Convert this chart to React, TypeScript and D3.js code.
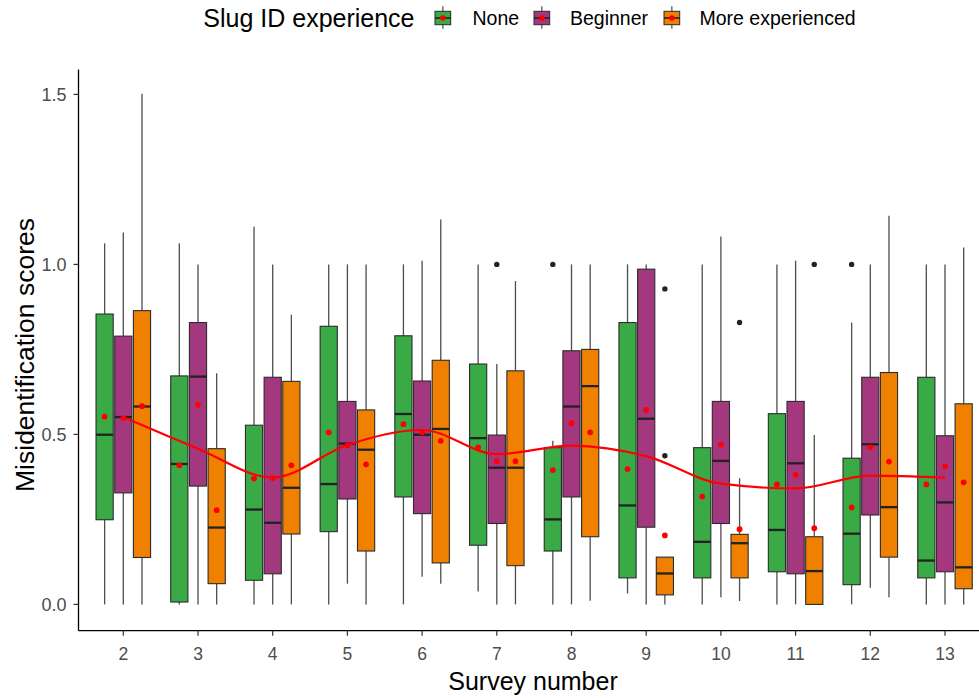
import React from 'react';
import * as d3 from 'd3';

const surveys = [2, 3, 4, 5, 6, 7, 8, 9, 10, 11, 12, 13];
const groups = ['None', 'Beginner', 'More experienced'];
const groupColors = ['#39aa46', '#a3387f', '#f08000'];

// [lower whisker, Q1, median, Q3, upper whisker]
const noneBoxes = [
  [0, 0.249, 0.499, 0.854, 1.062],
  [0, 0.007, 0.413, 0.672, 1.062],
  [0, 0.071, 0.279, 0.527, 1.111],
  [0, 0.214, 0.354, 0.818, 1.0],
  [0, 0.316, 0.56, 0.79, 1.0],
  [0.038, 0.174, 0.489, 0.707, 1.0],
  [0, 0.157, 0.25, 0.461, 0.481],
  [0.032, 0.078, 0.291, 0.829, 1.0],
  [0, 0.078, 0.184, 0.461, 1.0],
  [0, 0.096, 0.219, 0.561, 1.0],
  [0, 0.058, 0.208, 0.43, 0.829],
  [0, 0.078, 0.129, 0.668, 1.0],
];
const beginnerBoxes = [
  [0, 0.328, 0.551, 0.789, 1.094],
  [0, 0.348, 0.67, 0.829, 1.0],
  [0, 0.09, 0.24, 0.668, 1.0],
  [0.061, 0.31, 0.473, 0.597, 1.0],
  [0.081, 0.267, 0.499, 0.657, 1.011],
  [0, 0.238, 0.402, 0.498, 0.707],
  [0, 0.316, 0.582, 0.746, 1.0],
  [0, 0.227, 0.546, 0.986, 1.0],
  [0.021, 0.238, 0.422, 0.597, 1.082],
  [0, 0.09, 0.415, 0.597, 1.011],
  [0.049, 0.263, 0.471, 0.668, 1.0],
  [0, 0.096, 0.3, 0.496, 1.0],
];
const moreBoxes = [
  [0, 0.138, 0.582, 0.864, 1.502],
  [0, 0.061, 0.226, 0.458, 0.68],
  [0, 0.207, 0.343, 0.656, 0.852],
  [0, 0.157, 0.455, 0.572, 1.0],
  [0.061, 0.122, 0.516, 0.718, 1.132],
  [0, 0.114, 0.402, 0.687, 0.951],
  [0.011, 0.199, 0.642, 0.75, 1.0],
  [0, 0.028, 0.091, 0.139, 0.139],
  [0.01, 0.078, 0.18, 0.206, 0.371],
  [0, 0, 0.098, 0.199, 0.498],
  [0.021, 0.139, 0.286, 0.682, 1.143],
  [0, 0.046, 0.109, 0.59, 1.05],
];
const noneMeans = [0.552, 0.409, 0.37, 0.506, 0.53, 0.462, 0.395, 0.398, 0.317, 0.353, 0.285, 0.353];
const beginnerMeans = [0.548, 0.587, 0.371, 0.467, 0.506, 0.421, 0.533, 0.572, 0.47, 0.381, 0.462, 0.406];
const moreMeans = [0.583, 0.277, 0.409, 0.412, 0.481, 0.421, 0.506, 0.203, 0.221, 0.224, 0.42, 0.359];

const outlierSurveys = [7, 8, 9, 9, 10, 11, 12];
const outlierGroups = [1, 0, 2, 2, 2, 2, 0];
const outlierValues = [1.0, 1.0, 0.928, 0.437, 0.829, 1.0, 1.0];

const trendValues = [0.551, 0.458, 0.373, 0.469, 0.513, 0.442, 0.467, 0.436, 0.355, 0.341, 0.379, 0.373];
const yTicks = [0, 0.5, 1.0, 1.5];

const W = 979;
const H = 698;
const FONT = '"Liberation Sans", Arial, Helvetica, sans-serif';

export default function App() {
  const panelLeft = 78.5;
  const panelTop = 69.5;
  const panelBottom = 630.7;
  const x = d3.scaleLinear().domain([2, 13]).range([123.3, 945]);
  const step = x(3) - x(2);
  const y = d3.scaleLinear().domain([0, 1.5]).range([604.4, 94.4]);
  const dodge = step * 0.25;
  const boxW = step * 0.23;

  const allBoxes = [noneBoxes, beginnerBoxes, moreBoxes];
  const allMeans = [noneMeans, beginnerMeans, moreMeans];

  const lineGen = d3
    .line<number>()
    .x((_, i) => x(surveys[i]))
    .y((d) => y(d))
    .curve(d3.curveMonotoneX);

  const legendKeys = [435, 534, 664];
  const legendLabels = [472.5, 570, 699.5];

  return (
    <svg
      width={W}
      height={H}
      style={{ position: 'absolute', left: 0, top: 0, background: '#fff' }}
      fontFamily={FONT}
    >
      <rect x={0} y={0} width={W} height={H} fill="#fff" />
      {allBoxes.map((boxes, g) =>
        boxes.map((b, i) => {
          const cx = x(surveys[i]) + (g - 1) * dodge;
          const [lo, q1, med, q3, hi] = b;
          return (
            <g key={`b${g}-${i}`}>
              <line x1={cx} x2={cx} y1={y(hi)} y2={y(q3)} stroke="#4d4d4d" strokeWidth={1.3} />
              <line x1={cx} x2={cx} y1={y(q1)} y2={y(lo)} stroke="#4d4d4d" strokeWidth={1.3} />
              <rect
                x={cx - boxW / 2}
                y={y(q3)}
                width={boxW}
                height={Math.max(0.5, y(q1) - y(q3))}
                fill={groupColors[g]}
                stroke="#2b2b2b"
                strokeWidth={1.1}
              />
              <line
                x1={cx - boxW / 2}
                x2={cx + boxW / 2}
                y1={y(med)}
                y2={y(med)}
                stroke="#222"
                strokeWidth={2.3}
              />
            </g>
          );
        })
      )}
      {outlierValues.map((v, k) => (
        <circle
          key={`o${k}`}
          cx={x(outlierSurveys[k]) + (outlierGroups[k] - 1) * dodge}
          cy={y(v)}
          r={2.7}
          fill="#222"
        />
      ))}
      {allMeans.map((means, g) =>
        means.map((m, i) => (
          <circle
            key={`m${g}-${i}`}
            cx={x(surveys[i]) + (g - 1) * dodge}
            cy={y(m)}
            r={2.9}
            fill="#ff0000"
          />
        ))
      )}
      <path d={lineGen(trendValues) || ''} fill="none" stroke="#ff0000" strokeWidth={2.2} />

      <line x1={panelLeft} x2={panelLeft} y1={panelTop} y2={panelBottom} stroke="#000" strokeWidth={1.3} />
      <line x1={panelLeft} x2={W} y1={panelBottom} y2={panelBottom} stroke="#000" strokeWidth={1.3} />
      {yTicks.map((t) => (
        <g key={`yt${t}`}>
          <line x1={panelLeft - 5} x2={panelLeft} y1={y(t)} y2={y(t)} stroke="#333" strokeWidth={1.2} />
          <text
            x={panelLeft - 12}
            y={y(t)}
            dy="0.36em"
            textAnchor="end"
            fontSize={18}
            fill="#4d4d4d"
          >
            {t.toFixed(1)}
          </text>
        </g>
      ))}
      {surveys.map((s) => (
        <g key={`xt${s}`}>
          <line x1={x(s)} x2={x(s)} y1={panelBottom} y2={panelBottom + 5} stroke="#333" strokeWidth={1.2} />
          <text x={x(s)} y={660} textAnchor="middle" fontSize={17.5} fill="#4d4d4d">
            {s}
          </text>
        </g>
      ))}
      <text x={533} y={690} textAnchor="middle" fontSize={25} fill="#000">
        Survey number
      </text>
      <text
        transform={`translate(33.5, 355) rotate(-90)`}
        textAnchor="middle"
        fontSize={26.5}
        fill="#000"
      >
        Misidentification scores
      </text>

      <text x={203.3} y={26.7} fontSize={25} fill="#000">
        Slug ID experience
      </text>
      {groups.map((name, g) => {
        const kx = legendKeys[g];
        const kw = 15.7;
        const kcx = kx + kw / 2;
        return (
          <g key={`lg${g}`}>
            <line x1={kcx} x2={kcx} y1={6.3} y2={28.7} stroke="#4d4d4d" strokeWidth={1.2} />
            <rect x={kx} y={11.3} width={kw} height={13.4} fill={groupColors[g]} stroke="#2b2b2b" strokeWidth={1} />
            <line x1={kx} x2={kx + kw} y1={18} y2={18} stroke="#222" strokeWidth={1.6} />
            <circle cx={kcx} cy={18} r={2.8} fill="#ff0000" />
            <text x={legendLabels[g]} y={25} fontSize={19.5} fill="#000">
              {name}
            </text>
          </g>
        );
      })}
    </svg>
  );
}
